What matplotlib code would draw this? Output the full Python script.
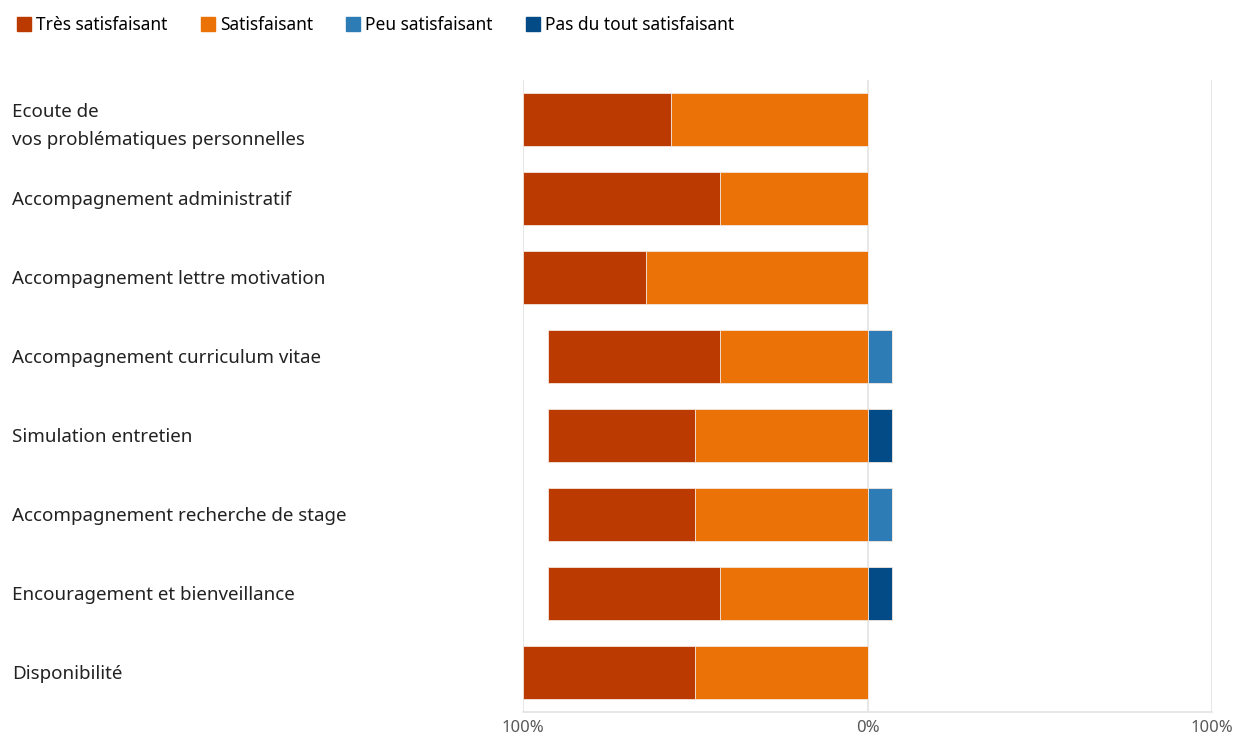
import matplotlib
matplotlib.use("Agg")
import matplotlib.pyplot as plt
from matplotlib.lines import Line2D

plt.rcParams['font.family'] = ['Noto Sans', 'DejaVu Sans']

categories = [
    "Ecoute de\nvos problématiques personnelles",
    "Accompagnement administratif",
    "Accompagnement lettre motivation",
    "Accompagnement curriculum vitae",
    "Simulation entretien",
    "Accompagnement recherche de stage",
    "Encouragement et bienveillance",
    "Disponibilité",
]
tres_satisfaisant = [42.9, 57.1, 35.7, 50.0, 42.9, 42.9, 50.0, 50.0]
satisfaisant = [57.1, 42.9, 64.3, 42.9, 50.0, 50.0, 42.9, 50.0]
peu_satisfaisant = [0, 0, 0, 7.1, 0, 7.1, 0, 0]
pas_du_tout = [0, 0, 0, 0, 7.1, 0, 7.1, 0]

series_names = ["Très satisfaisant", "Satisfaisant", "Peu satisfaisant", "Pas du tout satisfaisant"]
colors = ["#BB3A02", "#EA7207", "#2E7CB5", "#034B87"]


def main():
    fig = plt.figure(figsize=(12.38, 7.40), dpi=100)
    ax = fig.add_axes([0.4225, 0.038, 0.5565, 0.854])

    y = list(range(len(categories)))
    h = 0.67
    kw = dict(height=h, edgecolor="#f4e6dc", linewidth=0.6, zorder=3)
    neg_sat = [-v for v in satisfaisant]
    ax.barh(y, neg_sat, color=colors[1], **kw)
    ax.barh(y, [-v for v in tres_satisfaisant], left=neg_sat, color=colors[0], **kw)
    ax.barh(y, peu_satisfaisant, color=colors[2], **kw)
    ax.barh(y, pas_du_tout, left=peu_satisfaisant, color=colors[3], **kw)

    ax.set_xlim(-100, 100)
    ax.set_ylim(len(categories) - 0.5, -0.5)
    ax.set_xticks([-100, 0, 100])
    ax.set_xticklabels(["100%", "0%", "100%"], color="#595959", fontsize=12)
    ax.tick_params(axis='x', length=0, pad=6)
    for xv in [-100, 0, 100]:
        ax.axvline(xv, color="#e3e3e3", linewidth=1.2, zorder=1)

    ax.set_yticks(y)
    ax.set_yticklabels(categories, fontsize=13.5, color="#222222", ha='left', linespacing=1.7)
    ax.tick_params(axis='y', length=0, pad=368)

    for s in ["top", "left", "right"]:
        ax.spines[s].set_visible(False)
    ax.spines["bottom"].set_color("#e3e3e3")
    ax.spines["bottom"].set_linewidth(1.2)

    handles = [Line2D([], [], marker='s', linestyle='none', markersize=10,
                      markerfacecolor=c, markeredgecolor=c) for c in colors]
    fig.legend(handles, series_names, loc='upper left', bbox_to_anchor=(0.0, 1.0),
               ncol=4, frameon=False, fontsize=12.5, handletextpad=0.2,
               columnspacing=1.8, handlelength=1.0)

    fig.savefig("out.png", dpi=100, facecolor="white")


if __name__ == '__main__':
    main()
